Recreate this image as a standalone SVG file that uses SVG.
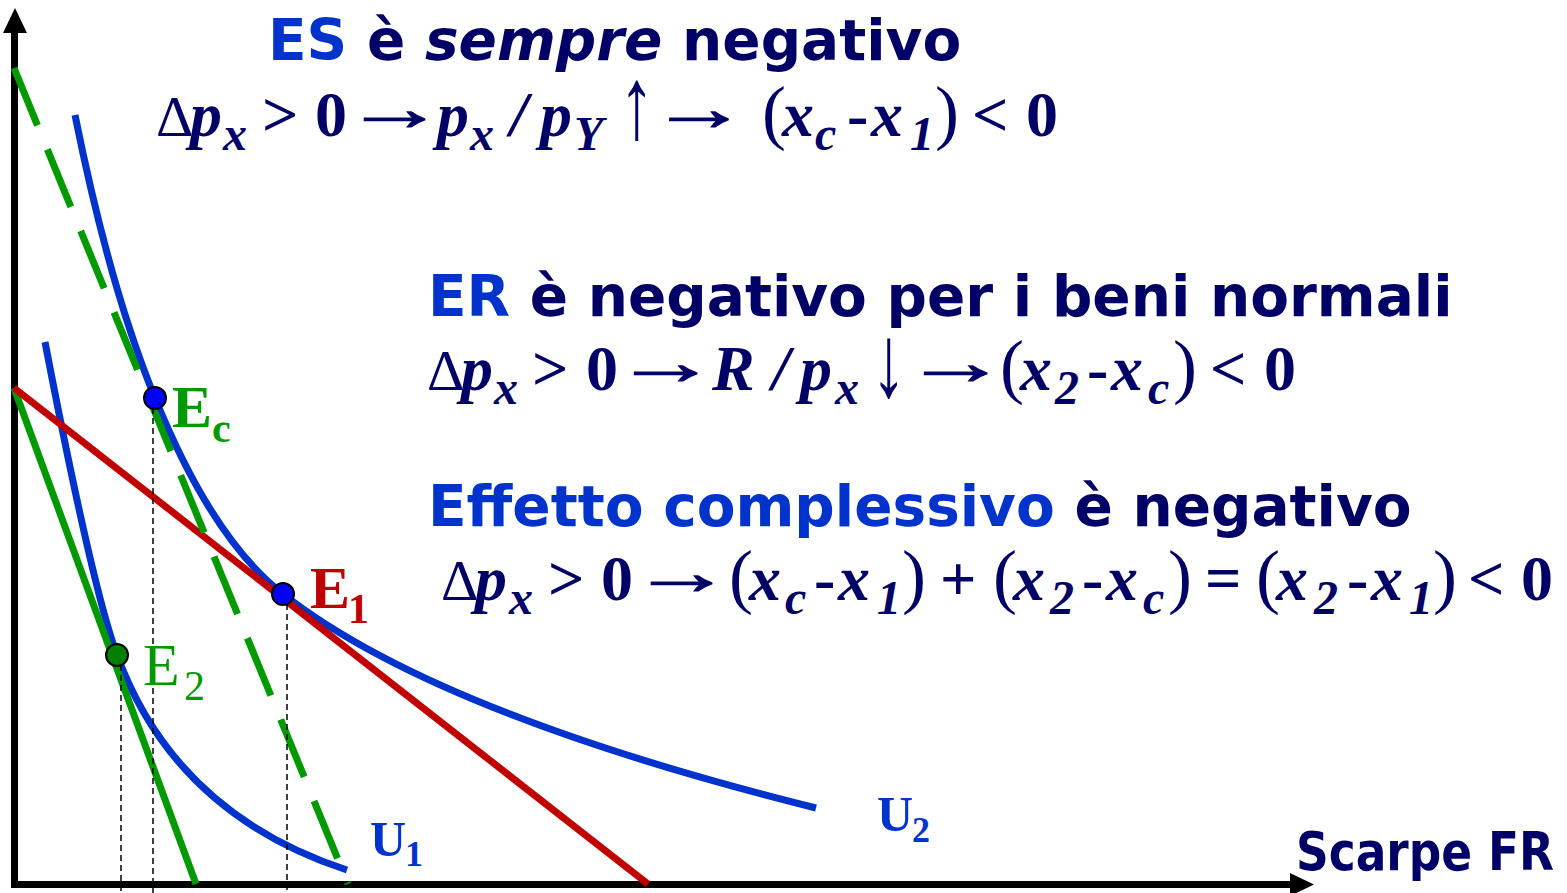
<svg xmlns="http://www.w3.org/2000/svg" width="1567" height="893" viewBox="0 0 1567 893">
<style>
.h{font-family:"DejaVu Sans","Verdana",sans-serif;font-weight:bold;font-size:56.5px;fill:#000066}
.blue{fill:#0033CC}
.m{font-family:"Liberation Serif","Times New Roman",serif;font-weight:bold;font-size:64px;fill:#000066}
.ar{stroke:#000066;stroke-width:1.2}
.i{font-style:italic}
.s{font-size:48px}
.d{font-weight:normal;font-size:58px}
.pa{font-size:72px;font-weight:normal}
.lbl{font-family:"Liberation Serif","Times New Roman",serif;font-size:60px}
.sub{font-size:42px}
.curve{fill:none;stroke:#0033CC;stroke-width:7}
.drop{fill:none;stroke:#000;stroke-width:1.5;stroke-dasharray:6 4}
.pt{stroke:#000;stroke-width:2}
</style>
<rect width="1567" height="893" fill="#fff"/>

<g id="axes">
<line x1="14.5" y1="888" x2="14.5" y2="30" stroke="#000" stroke-width="7"/>
<polygon points="15,8 3,33 27,33" fill="#000"/>
<line x1="11" y1="884.5" x2="1292" y2="884.5" stroke="#000" stroke-width="7"/>
<polygon points="1314,884.5 1290,873 1290,896" fill="#000"/>
</g>

<g id="connectors">
<path id="U1" class="curve" d="M45,342 C76.4,505.3 100.4,609.7 117,655 C155.7,760.5 232.3,832.2 347,870"/>
<path id="U2" class="curve" d="M75,115 C97.9,229.4 124.5,323.7 155,398 C193.5,492.7 236.3,558 283,594 C384.2,673.4 561.9,744.7 816,808"/>
<line id="budget-new" x1="14" y1="388" x2="196" y2="884" stroke="#009900" stroke-width="7"/>
<line id="budget-old" x1="14" y1="388" x2="648" y2="884" stroke="#C00000" stroke-width="7"/>
<line id="budget-comp" x1="14" y1="68" x2="348" y2="884" stroke="#009900" stroke-width="7" stroke-dasharray="62 26"/>
<line class="drop" x1="121" y1="665" x2="121" y2="893"/>
<line class="drop" x1="153" y1="408" x2="153" y2="893"/>
<line class="drop" x1="287" y1="604" x2="287" y2="893"/>
</g>

<g id="node-Ec">
<circle class="pt" cx="155" cy="398" r="11" fill="#0000FF"/>
<text class="lbl" font-weight="bold" fill="#009900"><tspan x="172" y="427">E</tspan><tspan class="sub" x="212" y="442">c</tspan></text>
</g>
<g id="node-E1">
<circle class="pt" cx="283" cy="594" r="11" fill="#0000FF"/>
<text class="lbl" font-weight="bold" fill="#C00000"><tspan x="310" y="608">E</tspan><tspan class="sub" x="348" y="623">1</tspan></text>
</g>
<g id="node-E2">
<circle class="pt" cx="117" cy="655" r="11" fill="#007F00"/>
<text class="lbl" fill="#009900"><tspan x="143" y="685">E</tspan><tspan class="sub" x="184" y="700">2</tspan></text>
</g>

<g id="label-U1">
<text class="lbl" font-weight="bold" fill="#0033CC" style="font-size:50px"><tspan x="370" y="856">U</tspan><tspan style="font-size:36px" x="405" y="866">1</tspan></text>
</g>
<g id="label-U2">
<text class="lbl" font-weight="bold" fill="#0033CC" style="font-size:50px"><tspan x="877" y="831">U</tspan><tspan style="font-size:36px" x="912" y="842">2</tspan></text>
</g>

<g id="axis-label">
<text class="h" x="1296" y="870" textLength="258" lengthAdjust="spacingAndGlyphs" style="font-size:53px">Scarpe FR</text>
</g>

<g id="title-ES">
<text class="h" x="268" y="60"><tspan class="blue">ES</tspan> è <tspan font-style="italic">sempre</tspan> negativo</text>
</g>
<g id="formula-ES">
<text class="m"><tspan class="d" x="156" y="136">Δ</tspan><tspan class="i" x="190" y="136">p</tspan><tspan class="i s" x="223" y="150">x</tspan><tspan x="262" y="136">&gt;</tspan><tspan x="315" y="136">0</tspan><tspan class="i" x="437" y="136">p</tspan><tspan class="i s" x="470" y="150">x</tspan><tspan class="i" x="510" y="136">/</tspan><tspan class="i" x="540" y="136">p</tspan><tspan class="i s" x="574" y="150">Y</tspan><tspan class="pa" x="762" y="136">(</tspan><tspan class="i" x="782" y="136">x</tspan><tspan class="i s" x="815" y="150">c</tspan><tspan x="847" y="136">-</tspan><tspan class="i" x="871" y="136">x</tspan><tspan class="i s" x="910" y="150">1</tspan><tspan class="pa" x="935" y="136">)</tspan><tspan x="972" y="136">&lt;</tspan><tspan x="1026" y="136">0</tspan></text>
<text class="m ar" transform="translate(344,130) scale(1.58,1)">→</text>
<text class="m ar" transform="translate(650,130) scale(1.53,1)">→</text>
<text class="m" transform="translate(619,138) scale(1.1,1.6)">↑</text>
</g>

<g id="title-ER">
<text class="h" x="428" y="316"><tspan class="blue">ER</tspan> è negativo per i beni normali</text>
</g>
<g id="formula-ER">
<text class="m"><tspan class="d" x="427" y="390">Δ</tspan><tspan class="i" x="461" y="390">p</tspan><tspan class="i s" x="494" y="404">x</tspan><tspan x="532" y="390">&gt;</tspan><tspan x="586" y="390">0</tspan><tspan class="i" x="712" y="390">R</tspan><tspan class="i" x="772" y="390">/</tspan><tspan class="i" x="800" y="390">p</tspan><tspan class="i s" x="835" y="404">x</tspan><tspan class="pa" x="1000" y="390">(</tspan><tspan class="i" x="1020" y="390">x</tspan><tspan class="i s" x="1055" y="404">2</tspan><tspan x="1087" y="390">-</tspan><tspan class="i" x="1111" y="390">x</tspan><tspan class="i s" x="1148" y="404">c</tspan><tspan class="pa" x="1173" y="390">)</tspan><tspan x="1210" y="390">&lt;</tspan><tspan x="1264" y="390">0</tspan></text>
<text class="m ar" transform="translate(613.5,384) scale(1.63,1)">→</text>
<text class="m ar" transform="translate(903.5,384) scale(1.63,1)">→</text>
<text class="m" transform="translate(871,396) scale(1.1,1.6)">↓</text>
</g>

<g id="title-EC">
<text class="h" x="428" y="526"><tspan class="blue">Effetto complessivo</tspan> è negativo</text>
</g>
<g id="formula-EC">
<text class="m"><tspan class="d" x="441" y="600">Δ</tspan><tspan class="i" x="475" y="600">p</tspan><tspan class="i s" x="509" y="614">x</tspan><tspan x="548" y="600">&gt;</tspan><tspan x="601" y="600">0</tspan><tspan class="pa" x="729" y="600">(</tspan><tspan class="i" x="749" y="600">x</tspan><tspan class="i s" x="785" y="614">c</tspan><tspan x="814" y="600">-</tspan><tspan class="i" x="838" y="600">x</tspan><tspan class="i s" x="877" y="614">1</tspan><tspan class="pa" x="902" y="600">)</tspan><tspan x="940" y="600">+</tspan><tspan class="pa" x="993" y="600">(</tspan><tspan class="i" x="1013" y="600">x</tspan><tspan class="i s" x="1050" y="614">2</tspan><tspan x="1082" y="600">-</tspan><tspan class="i" x="1106" y="600">x</tspan><tspan class="i s" x="1143" y="614">c</tspan><tspan class="pa" x="1168" y="600">)</tspan><tspan x="1205" y="600">=</tspan><tspan class="pa" x="1256" y="600">(</tspan><tspan class="i" x="1276" y="600">x</tspan><tspan class="i s" x="1314" y="614">2</tspan><tspan x="1347" y="600">-</tspan><tspan class="i" x="1371" y="600">x</tspan><tspan class="i s" x="1409" y="614">1</tspan><tspan class="pa" x="1433" y="600">)</tspan><tspan x="1468" y="600">&lt;</tspan><tspan x="1521" y="600">0</tspan></text>
<text class="m ar" transform="translate(631,594) scale(1.58,1)">→</text>
</g>
</svg>
